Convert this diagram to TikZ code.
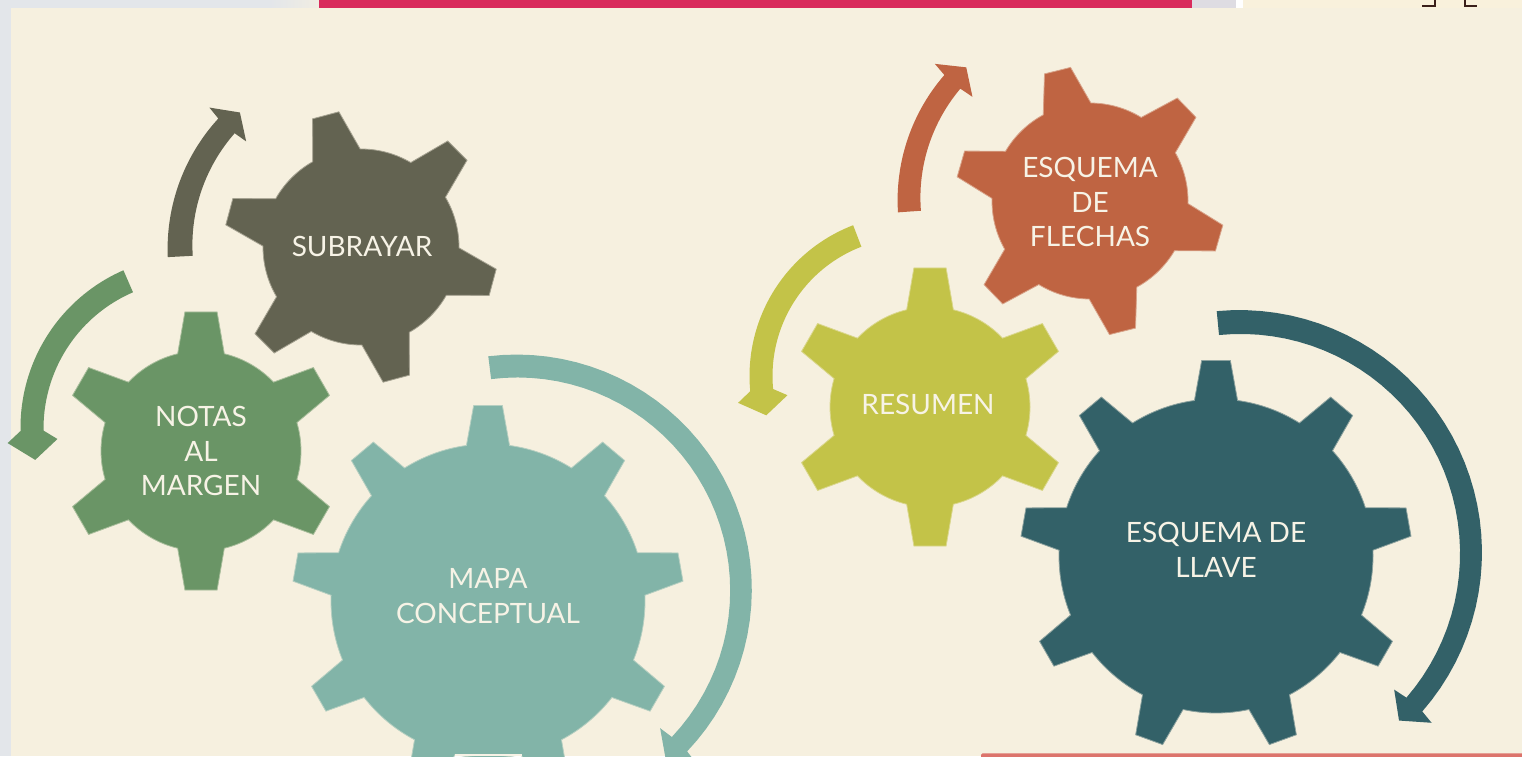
\documentclass[tikz,border=0pt]{standalone}
\usepackage{fontspec}
\setmainfont{Lato}
\definecolor{paper}{HTML}{F6F0DF}
\definecolor{screengray}{HTML}{E3E6EA}
\definecolor{tabgray}{HTML}{DEDCE2}
\definecolor{tabcream}{HTML}{F9F1DC}
\definecolor{barpink}{HTML}{D92B5C}
\definecolor{linepink}{HTML}{DC746C}
\definecolor{labelcream}{HTML}{F7F3E6}
\definecolor{bracketdark}{HTML}{3A1F1A}
\definecolor{olivegear}{HTML}{636351}
\definecolor{greengear}{HTML}{6A9566}
\definecolor{tealgear}{HTML}{82B4A8}
\definecolor{rustgear}{HTML}{BF6442}
\definecolor{limegear}{HTML}{C3C348}
\definecolor{deepgear}{HTML}{336168}
\tikzset{
  gearlabel/.style={text=labelcream, align=center, font=\fontsize{28}{34.5}\selectfont},
  cogfill/.style={fill=#1, draw=#1!55!paper, line width=0.8pt},
}
% x, y, body radius, tip radius, teeth, first tooth, base half angle, tip half angle, colour
\newcommand{\cogwheel}[9]{%
  \pgfmathsetmacro{\cogstep}{360/#5}
  \path[cogfill=#9, shift={(#1,#2)}] ({#6+#7}:#3pt)
    \foreach \k [evaluate=\k as \a using #6-(\k-1)*\cogstep,
                 evaluate=\k as \s using #6-(\k-1)*\cogstep-#7,
                 evaluate=\k as \e using #6-\k*\cogstep+#7] in {1,...,#5} {
      -- ({\a+#8}:#4pt) -- ({\a-#8}:#4pt) -- ({\a-#7}:#3pt)
      arc[start angle=\s, end angle=\e, radius=#3pt]
    } -- cycle;
}
\def\barbshare{0.1}
% x, y, radius, tail angle, neck angle, tip angle, tail width, neck width, colour
\newcommand{\ringarrow}[9]{%
  \pgfmathsetmacro{\barbang}{#5+\barbshare*(#6-(#5))}
  \pgfmathsetmacro{\armslope}{(#8-#7)/(#5-(#4))}
  \fill[#9] plot[domain=#4:#5, samples=40]
      ({#1+(#3+(#7+\armslope*(\x-(#4)))/2)*cos(\x)},{#2+(#3+(#7+\armslope*(\x-(#4)))/2)*sin(\x)})
    -- ({#1+(#3+25)*cos(\barbang)},{#2+(#3+25)*sin(\barbang)})
    -- ({#1+#3*cos(#6)},{#2+#3*sin(#6)})
    -- ({#1+(#3-25)*cos(\barbang)},{#2+(#3-25)*sin(\barbang)})
    -- plot[domain=#5:#4, samples=40]
      ({#1+(#3-(#7+\armslope*(\x-(#4)))/2)*cos(\x)},{#2+(#3-(#7+\armslope*(\x-(#4)))/2)*sin(\x)})
    -- cycle;
}
\begin{document}
\begin{tikzpicture}[x=1pt, y=1pt]
\useasboundingbox (0,0) rectangle (1522,756);
\clip (0,0) rectangle (1522,756);

% Screen around the slide
\fill[screengray] (0,0) rectangle (1522,756);
\shade[left color=screengray, right color=paper!70!screengray] (270,748) rectangle (319,756);
\fill[barpink] (319,748) rectangle (1192,756);
\fill[tabgray] (1192,748) rectangle (1236,756);
\fill[white] (1236,748) rectangle (1243,756);
\fill[tabcream] (1243,748) rectangle (1522,756);
\draw[bracketdark, line width=2.2pt] (1422,750) -- (1435,750) -- (1435,756);
\draw[bracketdark, line width=2.2pt] (1465,756) -- (1465,750) -- (1477,750);
\fill[paper] (11,0) rectangle (1522,748);
\fill[linepink, rounded corners=1.5pt] (981,-4) rectangle (1530,2.6);

% Gears
\cogwheel{361}{509}{98}{137}{6}{45}{14.5}{5.7}{olivegear}
\cogwheel{201}{305}{100}{140}{6}{90}{13.5}{6.6}{greengear}
\cogwheel{488}{155}{157}{196}{9}{90}{7.9}{4.2}{tealgear}
\cogwheel{1090}{555}{98}{135}{6}{44}{14.5}{5.7}{rustgear}
\cogwheel{930}{349}{100}{140}{6}{90}{13.5}{6.6}{limegear}
\cogwheel{1216}{200}{157}{196}{9}{90}{7.9}{4.2}{deepgear}

% Arrows round the gears
\ringarrow{361}{509}{181}{183}{138}{132}{25}{22}{olivegear}
\ringarrow{517}{166}{224}{97}{-43.5}{-48.5}{23}{21}{tealgear}
\ringarrow{1089}{557}{180}{184}{139.4}{133}{23}{21}{rustgear}
\ringarrow{1240}{203}{231}{95.5}{-41}{-46.5}{24}{21}{deepgear}
\def\barbshare{0.35}
\ringarrow{192}{328}{160}{113.5}{181}{191.5}{24}{23}{greengear}
\ringarrow{911}{380}{150}{111}{185.4}{195.2}{23}{23}{limegear}

% Labels
\node[gearlabel] (subrayar) at (362,510) {SUBRAYAR};
\node[gearlabel] (notas) at (201,305) {NOTAS\\AL\\MARGEN};
\node[gearlabel] (mapa) at (488,160) {MAPA\\CONCEPTUAL};
\node[gearlabel] (flechas) at (1090,554) {ESQUEMA\\DE\\FLECHAS};
\node[gearlabel] (resumen) at (928,352) {RESUMEN};
\node[gearlabel] (llave) at (1216,206) {ESQUEMA DE\\LLAVE};
\fill[labelcream] (455,0) rectangle (522,2);
\end{tikzpicture}
\end{document}
